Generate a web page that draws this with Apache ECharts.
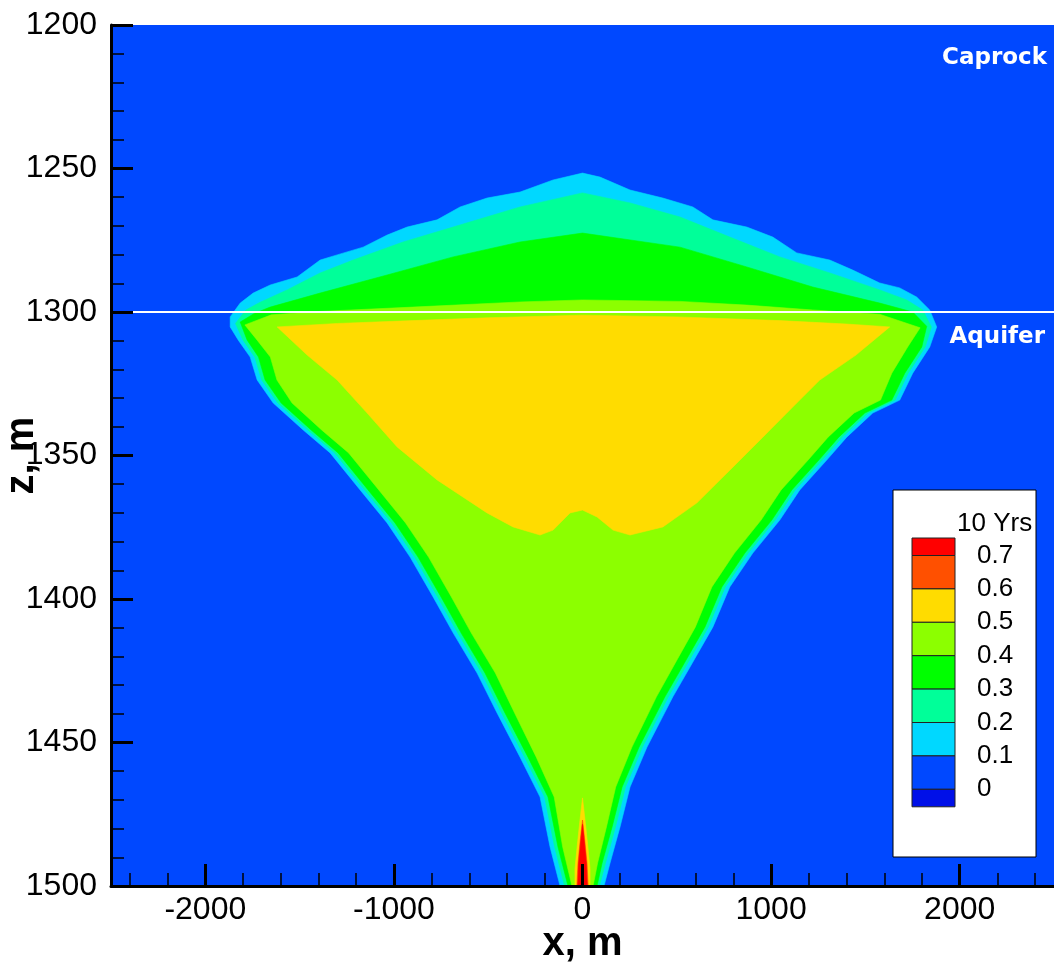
<!DOCTYPE html>
<html><head><meta charset="utf-8">
<script src="https://cdn.jsdelivr.net/npm/echarts@6/dist/echarts.min.js"></script>
<style>html,body{margin:0;padding:0;background:#fff}#c{width:1054px;height:970px}</style>
</head><body><div id="c"></div>
<script>
// ---- tick labels ----
const xMajorTicks = [-2000, -1000, 0, 1000, 2000];
const xMinorTicks = [-2400, -2200, -1800, -1600, -1400, -1200, -800, -600, -400, -200, 200, 400, 600, 800, 1200, 1400, 1600, 1800, 2200, 2400];
const zMin = 1200, zMax = 1500, zStep = 50;
const xMin = -2500, xMax = 2500;
const interfaceZ = 1300;

// ---- legend levels (top to bottom) ----
const legendTitle = '10 Yrs';
const levelLabels = ['0.7', '0.6', '0.5', '0.4', '0.3', '0.2', '0.1', '0'];
const levelColors = ['#ff0000', '#ff5000', '#ffdc00', '#8cff00', '#00ff00', '#00ff99', '#00d8ff', '#0048ff', '#0010e8'];

// ---- contour regions [x (m), z (m)] ----
const contour01 = [[-119,1500],[-172,1486.4],[-225,1469.0],[-331,1455.1],[-453,1439.7],[-559,1425.8],[-686,1411.8],[-792,1399.3],[-914,1385.4],[-1036,1373.5],[-1179,1362.0],[-1338,1349.1],[-1481,1341.1],[-1640,1331.7],[-1725,1323.7],[-1762,1315.7],[-1825,1309.8],[-1868,1305.2],[-1868,1301.7],[-1815,1296.9],[-1746,1293.4],[-1656,1290.6],[-1513,1287.8],[-1391,1281.9],[-1301,1280.1],[-1163,1277.4],[-1036,1273.2],[-930,1270.4],[-771,1267.9],[-649,1263.4],[-506,1260.3],[-331,1258.2],[-156,1254.0],[0,1251.6],[93,1253.0],[252,1257.5],[426,1260.3],[585,1263.4],[691,1267.9],[871,1270.4],[1009,1273.9],[1136,1279.4],[1311,1281.9],[1433,1285.4],[1576,1289.9],[1682,1291.6],[1772,1294.8],[1841,1299.3],[1878,1305.2],[1841,1312.2],[1751,1321.3],[1682,1330.7],[1539,1335.2],[1401,1343.6],[1295,1351.6],[1152,1362.0],[1046,1372.5],[903,1384.0],[781,1395.8],[691,1409.8],[570,1423.7],[479,1434.1],[342,1451.6],[252,1465.5],[199,1479.4],[146,1492.0],[114,1500]];
const contour02 = [[-95,1500],[-148,1486.4],[-201,1469.0],[-307,1455.1],[-429,1439.7],[-535,1425.8],[-662,1411.8],[-768,1399.3],[-890,1385.4],[-1012,1373.5],[-1155,1362.0],[-1314,1349.1],[-1457,1341.1],[-1616,1331.7],[-1701,1323.7],[-1738,1315.7],[-1800,1309.8],[-1840,1304.0],[-1785,1299.3],[-1709,1296.6],[-1566,1292.3],[-1391,1286.4],[-1216,1281.9],[-951,1275.6],[-686,1270.4],[-331,1263.4],[0,1258.5],[252,1262.0],[517,1266.9],[781,1273.9],[1046,1280.8],[1311,1286.4],[1576,1292.3],[1719,1295.8],[1804,1299.3],[1850,1305.2],[1817,1312.2],[1727,1321.3],[1658,1330.7],[1515,1335.2],[1377,1343.6],[1271,1351.6],[1128,1362.0],[1022,1372.5],[879,1384.0],[757,1395.8],[667,1409.8],[546,1423.7],[455,1434.1],[318,1451.6],[228,1465.5],[175,1479.4],[122,1492.0],[90,1500]];
const contour03 = [[-77,1500],[-130,1486.4],[-183,1469.0],[-289,1455.1],[-411,1439.7],[-517,1425.8],[-644,1411.8],[-750,1399.3],[-872,1385.4],[-994,1373.5],[-1137,1362.0],[-1296,1349.1],[-1439,1341.1],[-1598,1331.7],[-1683,1323.7],[-1718,1315.7],[-1778,1309.8],[-1815,1303.5],[-1740,1300.5],[-1656,1298.3],[-1391,1293.4],[-1036,1287.1],[-686,1280.8],[-331,1275.6],[0,1272.5],[517,1277.4],[871,1284.3],[1221,1291.3],[1576,1296.9],[1751,1300.0],[1825,1305.0],[1799,1312.2],[1709,1321.3],[1640,1330.7],[1497,1335.2],[1359,1343.6],[1253,1351.6],[1110,1362.0],[1004,1372.5],[861,1384.0],[739,1395.8],[649,1409.8],[528,1423.7],[437,1434.1],[300,1451.6],[210,1465.5],[157,1479.4],[104,1492.0],[77,1500]];
const contour04 = [[-56,1500],[-105,1486.4],[-150,1469.0],[-245,1455.1],[-360,1439.7],[-462,1425.8],[-590,1411.8],[-695,1399.3],[-816,1385.4],[-938,1373.5],[-1080,1362.0],[-1240,1349.1],[-1383,1341.1],[-1540,1331.7],[-1620,1323.7],[-1655,1315.7],[-1725,1309.8],[-1790,1304.5],[-1650,1301.0],[-1391,1299.8],[-900,1298.3],[-331,1296.5],[0,1295.8],[517,1296.3],[871,1297.6],[1221,1299.3],[1576,1300.8],[1790,1305.5],[1724,1312.2],[1640,1321.3],[1580,1330.7],[1440,1335.2],[1302,1343.6],[1196,1351.6],[1053,1362.0],[947,1372.5],[806,1384.0],[686,1395.8],[598,1409.8],[480,1423.7],[392,1434.1],[262,1451.6],[176,1465.5],[127,1479.4],[80,1492.0],[56,1500]];
const contour05 = [[-1619,1305.2],[-1300,1304.0],[-900,1303.0],[-500,1302.0],[0,1301.1],[500,1301.7],[1046,1303.0],[1400,1304.2],[1629,1305.2],[1450,1315.0],[1258,1323.7],[1136,1331.7],[956,1343.6],[781,1355.1],[607,1366.5],[426,1374.9],[252,1377.7],[162,1376.0],[77,1371.4],[0,1369.0],[-66,1370.0],[-156,1376.0],[-225,1377.7],[-368,1374.9],[-506,1370.0],[-771,1358.5],[-983,1347.0],[-1142,1335.2],[-1301,1323.7],[-1460,1315.0]];
const flame05 = [[0,1469.3],[15,1478],[28,1486],[40,1494],[40,1500],[-40,1500],[-40,1494],[-28,1486],[-15,1478]];
const flame06 = [[0,1477.0],[12,1484],[24,1492],[30,1500],[-30,1500],[-24,1492],[-12,1484]];
const flame07 = [[0,1478.5],[10,1485],[20,1492],[25,1500],[-25,1500],[-20,1492],[-10,1485]];

const regions = [
  {name: '0.1', pts: contour01, color: levelColors[6]},
  {name: '0.2', pts: contour02, color: levelColors[5]},
  {name: '0.3', pts: contour03, color: levelColors[4]},
  {name: '0.4', pts: contour04, color: levelColors[3]},
  {name: '0.5', pts: contour05, color: levelColors[2]},
  {name: '0.5b', pts: flame05, color: levelColors[2]},
  {name: '0.6', pts: flame06, color: levelColors[1]},
  {name: '0.7', pts: flame07, color: levelColors[0]}
];

const chart = echarts.init(document.getElementById('c'), null, {renderer: 'canvas'});
const FONT = '"Liberation Sans", Arial, sans-serif';
const plain = v => String(v);

const series = regions.map((r, i) => ({
  type: 'custom', name: r.name, data: r.pts, encode: {x: 0, y: 1},
  z: 2 + i * 0.01, silent: true, clip: true,
  renderItem: function (params, api) {
    if (params.dataIndex !== 0) return null;
    return {
      type: 'polygon',
      shape: {points: r.pts.map(p => api.coord(p))},
      style: {fill: r.color, stroke: r.color, lineWidth: 0.6}
    };
  }
}));
series.push({
  type: 'line', name: 'interface', data: [[xMin, interfaceZ], [xMax, interfaceZ]],
  symbol: 'none', silent: true, z: 5,
  lineStyle: {color: '#ffffff', width: 2}
});

// legend graphics built from the level arrays
const lgX = 893, lgY = 490, lgW = 143, lgH = 367;
const boxX = 912, boxW = 43, boxTop = 538, endH = 17.5, midH = 33.4;
const graphics = [
  {type: 'rect', shape: {x: lgX, y: lgY, width: lgW, height: lgH}, style: {fill: '#fff', stroke: '#000', lineWidth: 1}, z: 100},
  {type: 'text', x: 957, y: 524, style: {text: legendTitle, fontSize: 26, fontFamily: FONT, fill: '#000', textVerticalAlign: 'middle', verticalAlign: 'middle'}, z: 101}
];
let yy = boxTop;
levelColors.forEach((c, i) => {
  const h = (i === 0 || i === levelColors.length - 1) ? endH : midH;
  graphics.push({type: 'rect', shape: {x: boxX, y: yy, width: boxW, height: h}, style: {fill: c, stroke: '#222', lineWidth: 1}, z: 101});
  yy += h;
  if (i < levelLabels.length) {
    graphics.push({type: 'text', x: 977, y: yy, style: {text: levelLabels[i], fontSize: 26, fontFamily: FONT, fill: '#000', textVerticalAlign: 'middle', verticalAlign: 'middle'}, z: 102});
  }
});
graphics.push({type: 'text', right: 7, top: 47, style: {text: 'Caprock', fontSize: 23, fontWeight: 'bold', fontFamily: '"DejaVu Sans", sans-serif', fill: '#fff'}, z: 102});
graphics.push({type: 'text', right: 9, top: 326, style: {text: 'Aquifer', fontSize: 23, fontWeight: 'bold', fontFamily: '"DejaVu Sans", sans-serif', fill: '#fff'}, z: 102});

const option = {
  animation: false,
  backgroundColor: '#ffffff',
  grid: {left: 111, right: 0, top: 25, bottom: 84, show: true, backgroundColor: levelColors[7], borderWidth: 0, containLabel: false, outerBoundsMode: 'none'},
  xAxis: [{
    type: 'value', min: xMin, max: xMax, position: 'bottom', z: 10,
    axisLine: {show: true, onZero: false, lineStyle: {color: '#000', width: 3}},
    axisTick: {show: true, inside: true, length: 22, customValues: xMajorTicks, lineStyle: {color: '#000', width: 3}},
    axisLabel: {show: true, customValues: xMajorTicks, formatter: plain, fontSize: 32, color: '#000', margin: 8, fontFamily: FONT},
    splitLine: {show: false},
    name: 'x, m', nameLocation: 'middle', nameGap: 38, nameMoveOverlap: false,
    nameTextStyle: {fontSize: 40, fontWeight: 'bold', color: '#000', fontFamily: FONT}
  }, {
    type: 'value', min: xMin, max: xMax, position: 'bottom', z: 10,
    axisLine: {show: false},
    axisTick: {show: true, inside: true, length: 13, customValues: xMinorTicks, lineStyle: {color: '#000', width: 1.5}},
    axisLabel: {show: false},
    splitLine: {show: false}
  }],
  yAxis: [{
    type: 'value', min: zMin, max: zMax, interval: zStep, inverse: true, z: 10,
    axisLine: {show: true, onZero: false, lineStyle: {color: '#000', width: 3}},
    axisTick: {show: true, inside: true, length: 22, lineStyle: {color: '#000', width: 3}},
    minorTick: {show: true, splitNumber: 5, length: 13, lineStyle: {color: '#000', width: 1.5}},
    axisLabel: {formatter: plain, fontSize: 32, color: '#000', margin: 14, fontFamily: FONT},
    splitLine: {show: false}, minorSplitLine: {show: false},
    name: 'z, m', nameLocation: 'middle', nameRotate: 90, nameGap: 69, nameMoveOverlap: false,
    nameTextStyle: {fontSize: 40, fontWeight: 'bold', color: '#000', fontFamily: FONT}
  }],
  series: series,
  graphic: graphics
};
chart.setOption(option);
</script>
</body></html>
